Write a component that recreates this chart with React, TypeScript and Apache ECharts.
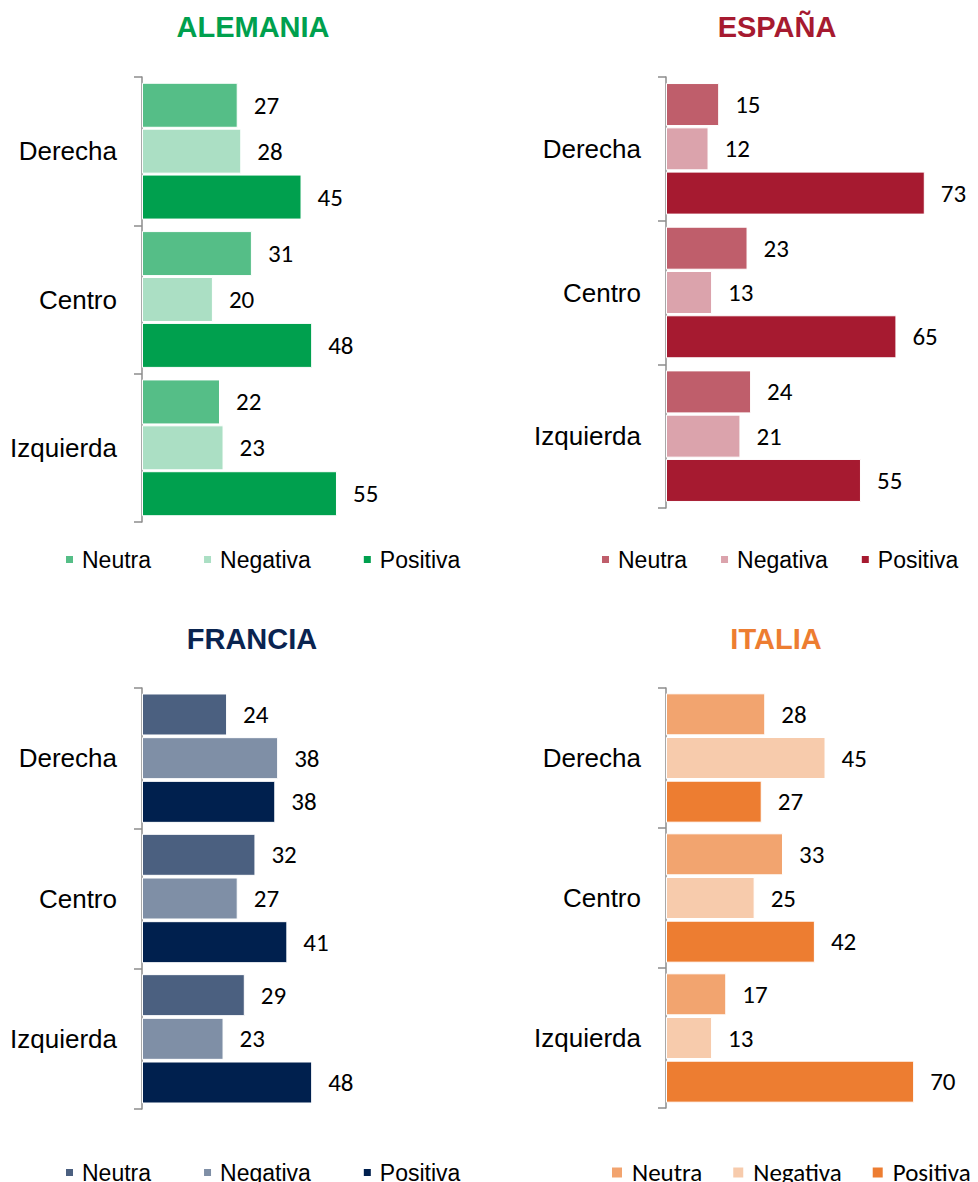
import React, { useEffect, useRef } from "react";
import * as echarts from "echarts";

const categories = ["Derecha", "Centro", "Izquierda"];
const seriesNames = ["Neutra", "Negativa", "Positiva"];

const alemaniaNeutra = [27, 31, 22];
const alemaniaNegativa = [28, 20, 23];
const alemaniaPositiva = [45, 48, 55];

const espanaNeutra = [15, 23, 24];
const espanaNegativa = [12, 13, 21];
const espanaPositiva = [73, 65, 55];

const franciaNeutra = [24, 32, 29];
const franciaNegativa = [38.4, 27, 23];
const franciaPositiva = [37.6, 41, 48];

const italiaNeutra = [28, 33, 17];
const italiaNegativa = [45, 25, 13];
const italiaPositiva = [27, 42, 70];

const ARIAL = "'Liberation Sans', Arial, sans-serif";
const CALIBRI = "Carlito, 'Open Sans', sans-serif";

const X_MAX = 80;
const PLOT_W = 283.6;

const panels = [
  {
    title: "ALEMANIA",
    titleColor: "#00A04E",
    colors: ["#55BE87", "#ABDFC4", "#00A04E"],
    data: [alemaniaNeutra, alemaniaNegativa, alemaniaPositiva],
    grid: { left: 142, top: 77, width: PLOT_W, height: 445 },
    titleX: 253, titleY: 27,
    barWidth: 45, barGap: "2%",
    legend: { left: 64, top: 548, itemGap: 51, icon: 9, font: ARIAL, size: 23, pad: 3 },
  },
  {
    title: "ESPAÑA",
    titleColor: "#A61A30",
    colors: ["#BF5E6B", "#DBA3AC", "#A61A30"],
    data: [espanaNeutra, espanaNegativa, espanaPositiva],
    grid: { left: 666, top: 77, width: PLOT_W, height: 431 },
    titleX: 777, titleY: 27,
    barWidth: 43, barGap: "3%",
    legend: { left: 600, top: 548, itemGap: 32, icon: 9, font: ARIAL, size: 23, pad: 3 },
  },
  {
    title: "FRANCIA",
    titleColor: "#0A2450",
    colors: ["#4B6080", "#7F8FA6", "#00204E"],
    data: [franciaNeutra, franciaNegativa, franciaPositiva],
    grid: { left: 142, top: 688, width: PLOT_W, height: 421 },
    titleX: 252, titleY: 639,
    barWidth: 42, barGap: "4%",
    legend: { left: 64, top: 1161, itemGap: 51, icon: 9, font: ARIAL, size: 23, pad: 3 },
  },
  {
    title: "ITALIA",
    titleColor: "#ED7D31",
    colors: ["#F2A46F", "#F7CBAC", "#ED7D31"],
    data: [italiaNeutra, italiaNegativa, italiaPositiva],
    grid: { left: 666, top: 688, width: PLOT_W, height: 420 },
    titleX: 776, titleY: 639,
    barWidth: 42, barGap: "4%",
    legend: { left: 610, top: 1160, itemGap: 29, icon: 12, font: CALIBRI, size: 25, pad: 4 },
  },
];

export default function App() {
  const ref = useRef<HTMLDivElement>(null);

  useEffect(() => {
    if (!ref.current) return;
    const chart = echarts.init(ref.current, undefined, { renderer: "svg" });

    const grids: any[] = [];
    const xAxes: any[] = [];
    const yAxes: any[] = [];
    const series: any[] = [];
    const legends: any[] = [];
    const graphics: any[] = [];

    panels.forEach((p, i) => {
      grids.push({ ...p.grid, containLabel: false });
      xAxes.push({
        type: "value",
        gridIndex: i,
        min: 0,
        max: X_MAX,
        show: false,
      });
      yAxes.push({
        type: "category",
        gridIndex: i,
        data: categories,
        inverse: true,
        boundaryGap: true,
        axisLine: { show: true, lineStyle: { color: "#8C8C8C", width: 1.5 } },
        axisTick: { show: true, length: 8, inside: false, lineStyle: { color: "#8C8C8C", width: 1.5 } },
        axisLabel: {
          color: "#000",
          fontFamily: ARIAL,
          fontSize: 26,
          margin: 25,
        },
        splitLine: { show: false },
      });
      seriesNames.forEach((n, k) => {
        series.push({
          type: "bar",
          name: n + "#" + i,
          xAxisIndex: i,
          yAxisIndex: i,
          data: p.data[k],
          barWidth: p.barWidth,
          barGap: p.barGap,
          itemStyle: { color: p.colors[k], borderColor: "#fff", borderWidth: 1 },
          label: {
            show: true,
            position: "right",
            distance: 16,
            color: "#000",
            fontFamily: CALIBRI,
            fontSize: 25,
            formatter: (v: any) => String(Math.round(v.value)),
          },
        });
      });
      legends.push({
        data: seriesNames.map((n) => n + "#" + i),
        formatter: (name: string) => name.split("#")[0],
        left: p.legend.left,
        top: p.legend.top,
        orient: "horizontal",
        icon: "rect",
        itemWidth: p.legend.icon,
        itemHeight: p.legend.icon,
        itemGap: p.legend.itemGap,
        padding: 0,
        selectedMode: false,
        textStyle: {
          color: "#000",
          fontFamily: p.legend.font,
          fontSize: p.legend.size,
          padding: [0, 0, 0, p.legend.pad],
        },
      });
      graphics.push({
        type: "text",
        x: p.titleX,
        y: p.titleY,
        style: {
          text: p.title,
          fill: p.titleColor,
          fontFamily: ARIAL,
          fontSize: 29,
          fontWeight: "bold",
          align: "center",
          verticalAlign: "middle",
          textAlign: "center",
          textVerticalAlign: "middle",
        },
      });
    });

    chart.setOption({
      animation: false,
      backgroundColor: "#fff",
      grid: grids,
      xAxis: xAxes,
      yAxis: yAxes,
      series,
      legend: legends,
      graphic: graphics,
    });

    return () => chart.dispose();
  }, []);

  return (
    <div
      ref={ref}
      style={{ position: "absolute", left: 0, top: 0, width: 978, height: 1182 }}
    />
  );
}
